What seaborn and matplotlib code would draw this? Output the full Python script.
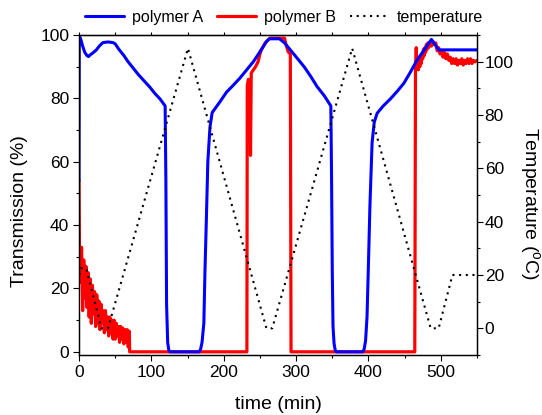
import numpy as np
import pandas as pd
import seaborn as sns
import matplotlib.pyplot as plt
from matplotlib.ticker import MultipleLocator

# polymer A (blue), transmission in %
time_a = [0, 0.3, 2, 5, 8, 11, 13, 16, 20, 24, 28, 33, 40, 47, 50, 55, 62, 68, 75, 82, 90, 98,
          105, 112, 119, 120, 121, 122.5, 124, 125.5, 166, 168, 170, 172.5, 174, 176, 178, 181,
          184, 195, 204, 213, 222, 231, 241, 250, 259, 263, 277, 284, 292, 301, 311, 320, 329,
          339, 348, 349, 350, 351, 352.5, 354, 355.5, 392, 394, 396, 398, 400, 402, 405, 408,
          412, 420, 431, 440, 449, 458, 467, 477, 487, 497, 550]
trans_a = [54, 99.5, 99, 96.5, 94.5, 93.5, 93.2, 93.8, 94.5, 95.3, 96.5, 97.6, 97.8, 97.6, 97.2,
           95.5, 93.5, 91.5, 89.5, 87.5, 85.5, 83.5, 81.5, 79.8, 77.6, 55, 15, 3, 0.6, 0, 0, 0.8,
           3, 9, 25, 42, 60, 71, 75.5, 79, 82, 84.1, 86.3, 88.8, 91.6, 94.7, 97.9, 98.8, 98.8,
           97.5, 95.3, 92.8, 90, 87, 83.7, 80.8, 77.6, 55, 25, 8, 2.5, 0.6, 0, 0, 0.8, 3.5, 11,
           28, 46, 66, 72.5, 75.3, 77.5, 80, 82.3, 84.8, 88.3, 92, 95.3, 98.6, 95.3, 95.3]

# polymer B (red): noisy start, switching, noisy end
time_b_start = np.arange(0.5, 70, 1.5)
trans_b_start = [34, 22, 33, 13, 29, 17, 27, 14, 25, 11, 23, 9, 21, 12, 19, 8, 18, 9, 16, 7, 15,
                 9, 13, 6, 13, 7, 11, 5, 11, 6, 10, 4, 10, 4, 9, 5, 8, 3, 8, 4, 7.5, 2.5, 7, 3,
                 7, 1.5, 6.5]
time_b_mid = [70, 232, 232.5, 234, 236, 237, 238, 241, 244, 247.5, 250, 252, 257, 261, 264, 284,
              286, 289, 292, 293, 464, 465]
trans_b_mid = [0, 0, 84, 86, 85, 62, 88, 89, 90, 91.6, 94, 95.3, 97.4, 98.4, 99, 99, 97, 94.7,
               94, 0, 0, 90]
time_b_end = [466, 467, 468, 469, 470, 471, 472, 473, 474, 475, 476, 477, 478, 479, 480, 481, 482,
              483, 485, 487, 489, 491, 493, 495, 497, 499, 501, 503, 505, 507, 509, 511, 513, 515,
              517, 519, 521, 523, 525, 527, 529, 531, 533, 535, 537, 539, 541, 543, 545, 547, 550]
trans_b_end = [96, 90, 93, 89, 92.5, 90, 93, 91, 94, 92.5, 95.5, 93.5, 96, 94.5, 97, 95.5, 97.5,
               96, 97.5, 96.5, 98, 97, 97.5, 95, 96, 94, 95, 93, 94.5, 92.5, 94, 92, 93, 91, 92.5,
               91, 92.5, 90.5, 92, 91, 92.5, 90.5, 92, 91, 92.5, 91, 92.5, 91, 92, 91.5, 92]

# temperature programme (right axis)
time_t = [0, 3, 10, 31, 40, 150.5, 259, 267, 377.5, 486, 497, 516, 550]
temp_t = [20, 22.5, 22.5, 0, 0, 105, 0, 0, 105, 0, 0, 20, 20]

df_a = pd.DataFrame({"time": time_a, "value": trans_a})
df_b = pd.DataFrame({"time": np.concatenate([[0], time_b_start, time_b_mid, time_b_end]),
                     "value": np.concatenate([[54], trans_b_start, trans_b_mid, trans_b_end])})
df_t = pd.DataFrame({"time": time_t, "value": temp_t})

sns.set_style("ticks", rc={"axes.edgecolor": "black", "xtick.color": "black",
                           "ytick.color": "black", "text.color": "black",
                           "axes.labelcolor": "black"})
plt.rcParams["font.family"] = ["Liberation Sans", "DejaVu Sans"]
plt.rcParams["mathtext.fontset"] = "custom"
plt.rcParams["mathtext.rm"] = "Liberation Sans"

fig = plt.figure(figsize=(5.42, 4.15), dpi=100)
ax = fig.add_axes([0.1458, 0.1446, 0.7343, 0.7711])

sns.lineplot(data=df_b, x="time", y="value", ax=ax, color="#ff0000", lw=2.3,
             estimator=None, sort=False, label="polymer B")
sns.lineplot(data=df_a, x="time", y="value", ax=ax, color="#0000ff", lw=2.2,
             estimator=None, sort=False, label="polymer A")

ax2 = ax.twinx()
sns.lineplot(data=df_t, x="time", y="value", ax=ax2, color="black", lw=1.5,
             linestyle=(0, (1, 2.2)), estimator=None, sort=False, label="temperature")

ax.set_xlim(0, 550)
ax.set_ylim(-1, 100)
ax2.set_ylim(-10, 110)
ax.xaxis.set_major_locator(MultipleLocator(100))
ax.xaxis.set_minor_locator(MultipleLocator(50))
ax.yaxis.set_major_locator(MultipleLocator(20))
ax.yaxis.set_minor_locator(MultipleLocator(10))
ax2.yaxis.set_major_locator(MultipleLocator(20))
ax2.yaxis.set_minor_locator(MultipleLocator(10))
ax2.set_yticks([0, 20, 40, 60, 80, 100])

for a in (ax, ax2):
    a.tick_params(which="major", direction="out", length=4, width=0.8, labelsize=12.5)
    a.tick_params(which="minor", direction="out", length=2.5, width=0.8)
    for s in a.spines.values():
        s.set_linewidth(0.9)
        s.set_visible(True)
ax.tick_params(axis="y", pad=3)
ax.tick_params(axis="x", pad=3)
ax2.tick_params(axis="y", pad=1.5)

top = ax.secondary_xaxis("top")
top.xaxis.set_major_locator(MultipleLocator(50))
top.tick_params(direction="out", length=2, width=0.8, labeltop=False)

ax.set_xlabel("")
ax.set_ylabel("")
ax2.set_ylabel("")
fig.text(278.5 / 542, 1 - 404 / 415, "time (min)", ha="center", va="center", fontsize=14)
fig.text(20 / 542, 1 - 211 / 415, "Transmission (%)", ha="center", va="center",
         rotation=90, fontsize=14)
fig.text(530 / 542, 1 - 204 / 415, r"Temperature ($\mathregular{^{o}}$C)", ha="center",
         va="center", rotation=270, fontsize=14)

h1, l1 = ax.get_legend_handles_labels()
h2, l2 = ax2.get_legend_handles_labels()
for a in (ax, ax2):
    if a.get_legend() is not None:
        a.get_legend().remove()
handles = [h1[1], h1[0], h2[0]]
labels = [l1[1], l1[0], l2[0]]
fig.legend(handles, labels, loc="center", bbox_to_anchor=(0.524, 0.959), ncol=3,
           frameon=False, fontsize=11.5, handlelength=2.4, handletextpad=0.5,
           columnspacing=0.9)

fig.savefig("out.png", dpi=100)
